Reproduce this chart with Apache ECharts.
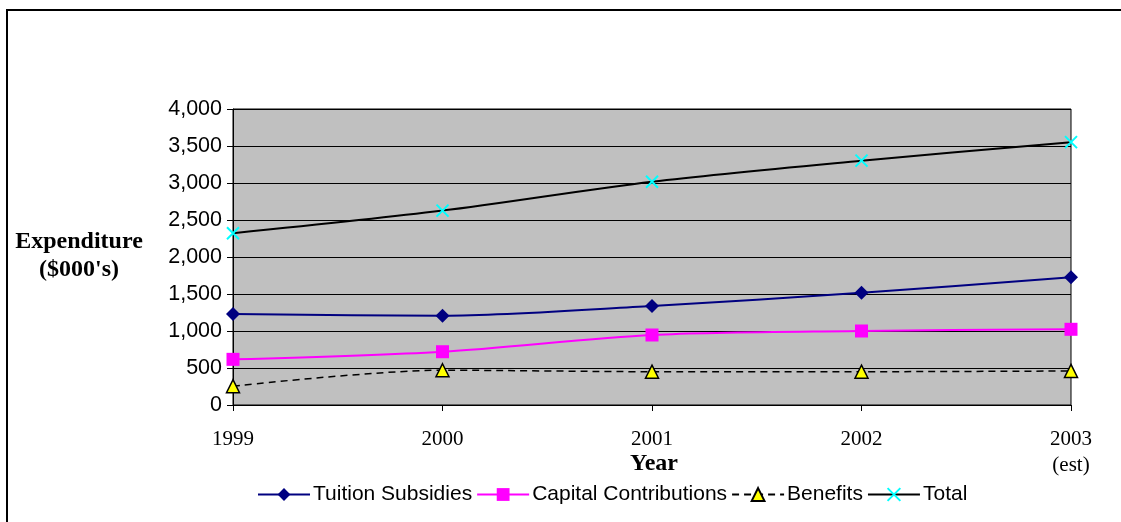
<!DOCTYPE html>
<html>
<head>
<meta charset="utf-8">
<script src="https://cdn.jsdelivr.net/npm/echarts@6/dist/echarts.min.js"></script>
<style>
  html, body { margin: 0; padding: 0; background: #fff; }
  #chart { width: 1121px; height: 522px; }
</style>
</head>
<body>
<div id="chart"></div>
<script>
// Expenditure by program, in thousands of dollars
const years = ['1999', '2000', '2001', '2002', '2003'];
const tuitionSubsidies = [1230, 1207, 1338, 1518, 1726];
const capitalContributions = [617, 720, 946, 1000, 1023];
const benefits = [255, 470, 450, 450, 460];
const total = [2320, 2627, 3018, 3302, 3552];
const estimatedYear = '2003';

const sans = 'Liberation Sans, Arial, sans-serif';
const serif = 'Liberation Serif, Times New Roman, serif';

const chart = echarts.init(document.getElementById('chart'));

chart.setOption({
  animation: false,
  backgroundColor: '#ffffff',
  graphic: [
    { type: 'line', shape: { x1: 7, y1: 9, x2: 7, y2: 522 }, style: { stroke: '#000', lineWidth: 2 } },
    { type: 'line', shape: { x1: 6, y1: 10, x2: 1121, y2: 10 }, style: { stroke: '#000', lineWidth: 2 } },
    {
      type: 'text', x: 79, y: 256,
      style: {
        text: "Expenditure\n($000's)", align: 'center', verticalAlign: 'middle',
        font: 'bold 24px ' + serif, fill: '#000', lineHeight: 28
      }
    },
    {
      type: 'text', x: 654, y: 464,
      style: {
        text: 'Year', align: 'center', verticalAlign: 'middle',
        font: 'bold 24px ' + serif, fill: '#000'
      }
    }
  ],
  grid: {
    left: 233, right: 50, top: 109, bottom: 117,
    containLabel: false, outerBoundsMode: 'none',
    show: true, backgroundColor: '#c0c0c0', borderColor: '#000', borderWidth: 1
  },
  legend: {
    left: 252, top: 479,
    itemWidth: 52, itemHeight: 16, itemGap: 4,
    textStyle: { fontFamily: sans, fontSize: 21, color: '#000', padding: [0, 0, 0, -2] },
    data: ['Tuition Subsidies', 'Capital Contributions', 'Benefits', 'Total']
  },
  xAxis: {
    type: 'category',
    data: years,
    boundaryGap: false,
    axisLine: { lineStyle: { color: '#000', width: 1 } },
    axisTick: { show: true, length: 6, lineStyle: { color: '#000' } },
    axisLabel: {
      fontFamily: serif, fontSize: 21, color: '#000', margin: 21, lineHeight: 26,
      formatter: v => v === estimatedYear ? v + '\n(est)' : v
    },
    splitLine: { show: false }
  },
  yAxis: {
    type: 'value',
    min: 0, max: 4000, interval: 500,
    axisLine: { show: true, lineStyle: { color: '#000', width: 1 } },
    axisTick: { show: true, length: 6, lineStyle: { color: '#000' } },
    axisLabel: {
      fontFamily: sans, fontSize: 21.5, color: '#000', margin: 11,
      formatter: v => v.toLocaleString('en-US')
    },
    splitLine: { show: true, lineStyle: { color: '#000', width: 1 } }
  },
  series: [
    {
      name: 'Tuition Subsidies', type: 'line', data: tuitionSubsidies, smooth: 0.3,
      symbol: 'diamond', symbolSize: 14,
      lineStyle: { color: '#000080', width: 2 },
      itemStyle: { color: '#000080' }
    },
    {
      name: 'Capital Contributions', type: 'line', data: capitalContributions, smooth: 0.3,
      symbol: 'rect', symbolSize: 13,
      lineStyle: { color: '#ff00ff', width: 2 },
      itemStyle: { color: '#ff00ff' }
    },
    {
      name: 'Benefits', type: 'line', data: benefits, smooth: 0.3,
      symbol: 'triangle', symbolSize: 13,
      lineStyle: { color: '#000', width: 1.5, type: [7, 5] },
      itemStyle: { color: '#ffff00', borderColor: '#000', borderWidth: 1.5 }
    },
    {
      name: 'Total', type: 'line', data: total, smooth: 0.3,
      symbol: 'path://M0,0L10,10M10,0L0,10', symbolSize: 12,
      lineStyle: { color: '#000', width: 2 },
      itemStyle: { color: 'none', borderColor: '#00ffff', borderWidth: 2 }
    }
  ]
});
</script>
</body>
</html>
